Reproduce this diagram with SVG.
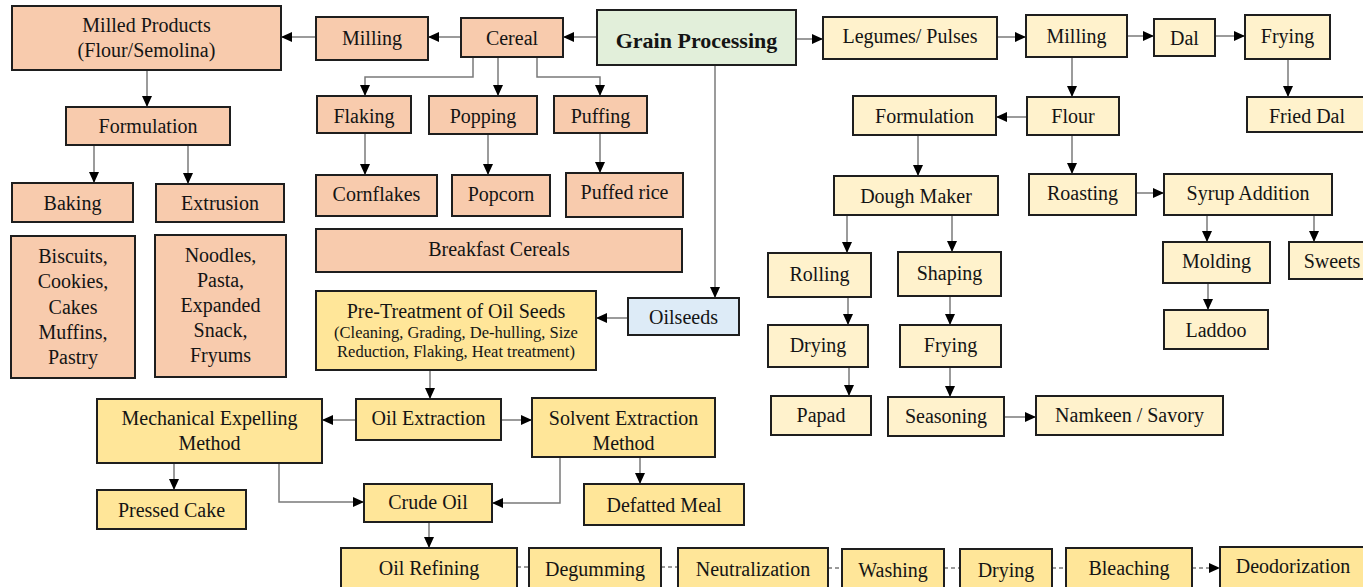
<svg xmlns="http://www.w3.org/2000/svg" width="1363" height="587" viewBox="0 0 1363 587">
<style>
rect{stroke:#1e1e1e;stroke-width:2}
.p{fill:#F8CBAD}
.l{fill:#FFF2CC}
.y{fill:#FFE699}
.g{fill:#E2EFDA}
.b{fill:#DDEBF7}
text{font-family:'Liberation Serif','Times New Roman',serif;font-weight:400;font-size:20px;fill:#141414;text-anchor:middle}
.s{font-size:16.5px}
.bold{font-weight:700;font-size:22px}
#connectors path{fill:none;stroke:#7a7a7a;stroke-width:1.5}
#connectors .a{marker-end:url(#ah)}
#connectors .d{stroke-dasharray:4 3}
</style>
<defs>
<marker id="ah" markerUnits="userSpaceOnUse" markerWidth="11" markerHeight="10" refX="11" refY="5" orient="auto">
<path d="M0,0 L11,5 L0,10 z" fill="#000"/>
</marker>
</defs>
<g id="connectors">
<path class="a" d="M597,37 H563"/>
<path class="a" d="M461,37 H428"/>
<path class="a" d="M316,37 H281"/>
<path class="a" d="M147,70 V107"/>
<path class="a" d="M94,145 V183"/>
<path class="a" d="M188,145 V184"/>
<path class="a" d="M473,57 V77 H365 V96"/>
<path class="a" d="M498,57 V96"/>
<path class="a" d="M537,57 V77 H600 V96"/>
<path class="a" d="M365,133 V175"/>
<path class="a" d="M488,134 V175"/>
<path class="a" d="M600,133 V173"/>
<path class="a" d="M715,65 V298"/>
<path class="a" d="M628,318 H596"/>
<path class="a" d="M430,370 V399"/>
<path class="a" d="M356,420 H322"/>
<path class="a" d="M501,420 H532"/>
<path class="a" d="M174,463 V490"/>
<path class="a" d="M279,463 V502 H364"/>
<path class="a" d="M560,457 V503 H492"/>
<path class="a" d="M640,457 V484"/>
<path class="a" d="M429,522 V548"/>
<path class="d" d="M517,567 H529"/>
<path class="d" d="M661,567 H678"/>
<path class="d" d="M828,568 H842"/>
<path class="d" d="M944,568 H960"/>
<path class="d" d="M1052,568 H1066"/>
<path class="d a" d="M1192,568 H1220"/>
<path class="a" d="M796,39 H823"/>
<path class="a" d="M997,37 H1026"/>
<path class="a" d="M1127,36 H1154"/>
<path class="a" d="M1215,36 H1245"/>
<path class="a" d="M1288,59 V97"/>
<path class="a" d="M1072,57 V97"/>
<path class="a" d="M1027,117 H996"/>
<path class="a" d="M918,135 V176"/>
<path class="a" d="M1072,135 V174"/>
<path class="a" d="M1136,193 H1164"/>
<path class="a" d="M847,215 V253"/>
<path class="a" d="M952,215 V252"/>
<path class="a" d="M1207,215 V242"/>
<path class="a" d="M1314,215 V242"/>
<path class="a" d="M1208,283 V310"/>
<path class="a" d="M848,297 V325"/>
<path class="a" d="M849,367 V396"/>
<path class="a" d="M950,296 V325"/>
<path class="a" d="M950,367 V397"/>
<path class="a" d="M1004,417 H1036"/>
</g>
<g id="grain"><rect class="g" x="597" y="10" width="199" height="55"/><text class="bold" x="696.5" y="48">Grain Processing</text></g>
<g id="cereal"><rect class="p" x="461" y="18" width="102" height="39"/><text x="512" y="45">Cereal</text></g>
<g id="milling1"><rect class="p" x="316" y="17" width="112" height="43"/><text x="372" y="45">Milling</text></g>
<g id="milled"><rect class="p" x="12" y="6" width="269" height="64"/><text x="146.5" y="32">Milled Products</text><text x="146.5" y="57">(Flour/Semolina)</text></g>
<g id="formulation1"><rect class="p" x="66" y="107" width="164" height="38"/><text x="148" y="133">Formulation</text></g>
<g id="baking"><rect class="p" x="12" y="183" width="121" height="39"/><text x="72.5" y="210">Baking</text></g>
<g id="extrusion"><rect class="p" x="156" y="184" width="128" height="38"/><text x="220" y="210">Extrusion</text></g>
<g id="biscuits"><rect class="p" x="11" y="236" width="124" height="142"/><text x="73" y="263">Biscuits,</text><text x="73" y="288">Cookies,</text><text x="73" y="313.5">Cakes</text><text x="73" y="339">Muffins,</text><text x="73" y="364">Pastry</text></g>
<g id="noodles"><rect class="p" x="155" y="235" width="131" height="142"/><text x="220.5" y="262">Noodles,</text><text x="220.5" y="287">Pasta,</text><text x="220.5" y="312">Expanded</text><text x="220.5" y="337">Snack,</text><text x="220.5" y="362">Fryums</text></g>
<g id="flaking"><rect class="p" x="317" y="96" width="94" height="37"/><text x="364" y="123">Flaking</text></g>
<g id="popping"><rect class="p" x="429" y="96" width="108" height="38"/><text x="483" y="123">Popping</text></g>
<g id="puffing"><rect class="p" x="554" y="96" width="93" height="37"/><text x="600.5" y="123">Puffing</text></g>
<g id="cornflakes"><rect class="p" x="316" y="175" width="121" height="41"/><text x="376.5" y="201">Cornflakes</text></g>
<g id="popcorn"><rect class="p" x="452" y="175" width="98" height="41"/><text x="501" y="201">Popcorn</text></g>
<g id="puffedrice"><rect class="p" x="566" y="173" width="117" height="44"/><text x="624.5" y="199">Puffed rice</text></g>
<g id="breakfast"><rect class="p" x="316" y="229" width="366" height="43"/><text x="499" y="256">Breakfast Cereals</text></g>
<g id="pretreat"><rect class="y" x="316" y="291" width="280" height="79"/><text x="456" y="318">Pre-Treatment of Oil Seeds</text><text class="s" x="456" y="338">(Cleaning, Grading, De-hulling, Size</text><text class="s" x="456" y="357">Reduction, Flaking, Heat treatment)</text></g>
<g id="oilseeds"><rect class="b" x="628" y="298" width="111" height="37"/><text x="683.5" y="324">Oilseeds</text></g>
<g id="oilextraction"><rect class="y" x="356" y="399" width="145" height="41"/><text x="428.5" y="425">Oil Extraction</text></g>
<g id="mechanical"><rect class="y" x="97" y="399" width="225" height="64"/><text x="209.5" y="425">Mechanical Expelling</text><text x="209.5" y="450">Method</text></g>
<g id="solvent"><rect class="y" x="532" y="398" width="183" height="59"/><text x="623.5" y="425">Solvent Extraction</text><text x="623.5" y="450">Method</text></g>
<g id="pressedcake"><rect class="y" x="97" y="490" width="149" height="39"/><text x="171.5" y="517">Pressed Cake</text></g>
<g id="crudeoil"><rect class="y" x="364" y="484" width="128" height="38"/><text x="428" y="509">Crude Oil</text></g>
<g id="defatted"><rect class="y" x="584" y="484" width="160" height="41"/><text x="664" y="512">Defatted Meal</text></g>
<g id="refining"><rect class="y" x="341" y="548" width="176" height="44"/><text x="429" y="575">Oil Refining</text></g>
<g id="degumming"><rect class="y" x="529" y="548" width="132" height="44"/><text x="595" y="576">Degumming</text></g>
<g id="neutralization"><rect class="y" x="678" y="548" width="150" height="44"/><text x="753" y="576">Neutralization</text></g>
<g id="washing"><rect class="y" x="842" y="549" width="102" height="44"/><text x="893" y="577">Washing</text></g>
<g id="drying2"><rect class="y" x="960" y="549" width="92" height="44"/><text x="1006" y="577">Drying</text></g>
<g id="bleaching"><rect class="y" x="1066" y="548" width="126" height="44"/><text x="1129" y="575">Bleaching</text></g>
<g id="deodorization"><rect class="y" x="1220" y="547" width="150" height="44"/><text x="1293" y="573">Deodorization</text></g>
<g id="legumes"><rect class="l" x="823" y="17" width="174" height="42"/><text x="910" y="43">Legumes/ Pulses</text></g>
<g id="milling2"><rect class="l" x="1026" y="15" width="101" height="42"/><text x="1076.5" y="43">Milling</text></g>
<g id="dal"><rect class="l" x="1154" y="19" width="61" height="37"/><text x="1184.5" y="45">Dal</text></g>
<g id="frying1"><rect class="l" x="1245" y="15" width="85" height="44"/><text x="1287.5" y="43">Frying</text></g>
<g id="frieddal"><rect class="l" x="1247" y="97" width="120" height="35"/><text x="1307" y="123">Fried Dal</text></g>
<g id="formulation2"><rect class="l" x="853" y="96" width="143" height="39"/><text x="924.5" y="123">Formulation</text></g>
<g id="flour"><rect class="l" x="1027" y="97" width="92" height="38"/><text x="1073" y="123">Flour</text></g>
<g id="dough"><rect class="l" x="834" y="176" width="164" height="39"/><text x="916" y="203">Dough Maker</text></g>
<g id="roasting"><rect class="l" x="1029" y="174" width="107" height="41"/><text x="1082.5" y="200">Roasting</text></g>
<g id="syrup"><rect class="l" x="1164" y="174" width="168" height="41"/><text x="1248" y="200">Syrup Addition</text></g>
<g id="rolling"><rect class="l" x="768" y="253" width="103" height="44"/><text x="819.5" y="281">Rolling</text></g>
<g id="shaping"><rect class="l" x="898" y="252" width="103" height="44"/><text x="949.5" y="280">Shaping</text></g>
<g id="molding"><rect class="l" x="1163" y="242" width="107" height="41"/><text x="1216.5" y="268">Molding</text></g>
<g id="sweets"><rect class="l" x="1289" y="242" width="86" height="37"/><text x="1332" y="268">Sweets</text></g>
<g id="laddoo"><rect class="l" x="1164" y="310" width="104" height="39"/><text x="1216" y="337">Laddoo</text></g>
<g id="drying1"><rect class="l" x="768" y="325" width="100" height="42"/><text x="818" y="352">Drying</text></g>
<g id="frying2"><rect class="l" x="900" y="325" width="101" height="42"/><text x="950.5" y="352">Frying</text></g>
<g id="papad"><rect class="l" x="771" y="396" width="100" height="39"/><text x="821" y="422">Papad</text></g>
<g id="seasoning"><rect class="l" x="888" y="397" width="116" height="39"/><text x="946" y="423">Seasoning</text></g>
<g id="namkeen"><rect class="l" x="1036" y="396" width="187" height="39"/><text x="1129.5" y="422">Namkeen / Savory</text></g>
</svg>
